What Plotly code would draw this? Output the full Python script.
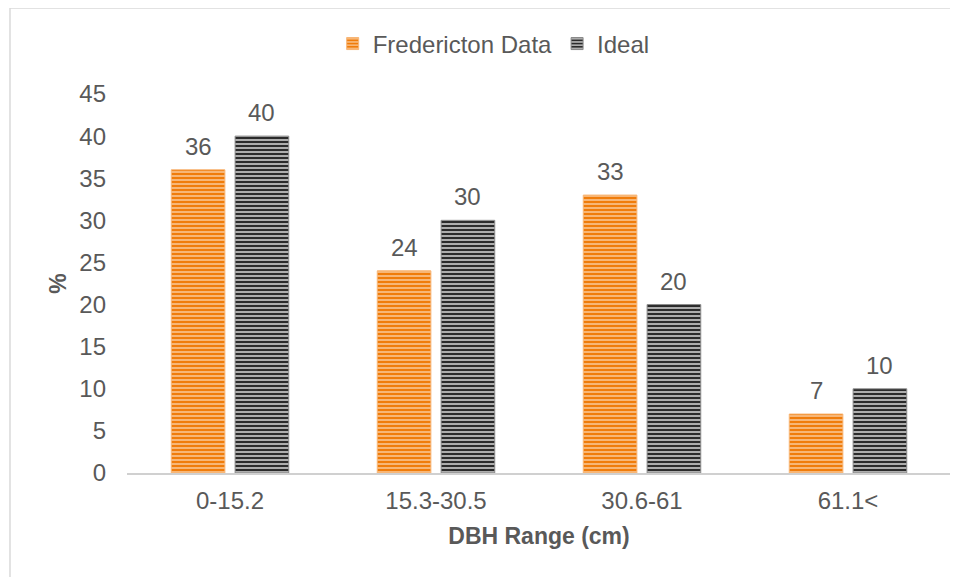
import plotly.graph_objects as go

categories = ["0-15.2", "15.3-30.5", "30.6-61", "61.1<"]
fredericton = [36, 24, 33, 7]
ideal = [40, 30, 20, 10]

font_color = "#595959"
font_family = "Liberation Sans, Arial, sans-serif"

fig = go.Figure()
fig.add_trace(go.Bar(
    x=categories,
    y=fredericton,
    name="Fredericton Data",
    marker=dict(
        color="#f07c0a",
        line=dict(color="#f8b676", width=1),
        pattern=dict(shape="-", size=4, solidity=0.35,
                     fgcolor="#fbd0a4", bgcolor="#f07c0a", fillmode="replace"),
    ),
))
fig.add_trace(go.Bar(
    x=categories,
    y=ideal,
    name="Ideal",
    marker=dict(
        color="#2b2b2b",
        line=dict(color="#8a8a8a", width=1),
        pattern=dict(shape="-", size=4, solidity=0.4,
                     fgcolor="#cfcfcf", bgcolor="#2b2b2b", fillmode="replace"),
    ),
))

# value labels above bars
for series, shift in [(fredericton, -31.5), (ideal, 31.5)]:
    for cat, val in zip(categories, series):
        fig.add_annotation(
            x=cat, y=val, text=str(val), showarrow=False,
            xshift=shift, yshift=8, yanchor="bottom",
            font=dict(size=24, color=font_color, family=font_family),
        )

# outer chart frame (left and top edges visible)
fig.add_shape(type="rect", xref="paper", yref="paper",
              x0=-0.142, x1=1.2, y0=-0.4, y1=1.227,
              line=dict(color="#d9d9d9", width=1.5), layer="below")

# page body has an 8px margin, so the figure is shifted by that much
fig.update_layout(
    width=950, height=569,
    margin=dict(l=119, r=7, t=86, b=104),
    paper_bgcolor="white", plot_bgcolor="white",
    barmode="group", bargap=0.38, bargroupgap=0.16,
    font=dict(family=font_family, color=font_color, size=24),
    showlegend=True,
    legend=dict(orientation="h", x=0.445, xanchor="center", y=1.132, yanchor="middle",
                font=dict(size=24, color=font_color), itemwidth=30,
                traceorder="normal"),
    xaxis=dict(
        showline=True, linecolor="#d0d0d0", linewidth=2,
        ticks="", tickfont=dict(size=24, color=font_color),
        ticklabelstandoff=5,
        title=dict(text="<b>DBH Range (cm)</b>", font=dict(size=23, color=font_color),
                   standoff=15),
    ),
    yaxis=dict(
        range=[0, 45], dtick=5, showgrid=False, zeroline=False, showline=False,
        ticks="", tickfont=dict(size=24, color=font_color),
        ticklabelstandoff=20,
        title=dict(text="<b>%</b>", font=dict(size=23, color=font_color), standoff=6),
    ),
)

fig.write_html("out.html")
